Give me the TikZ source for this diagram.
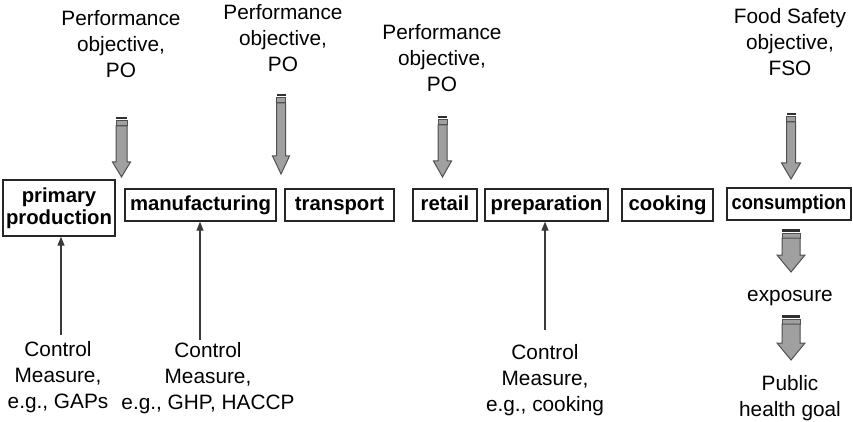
\documentclass[tikz,border=0pt]{standalone}
\usepackage{fontspec}
\setmainfont{Liberation Sans}
\usetikzlibrary{arrows.meta}
\definecolor{arrfill}{HTML}{A0A0A0}
\definecolor{arrline}{HTML}{505050}
\definecolor{stripecol}{HTML}{303030}
\definecolor{thinline}{HTML}{3A3A3A}
\tikzset{
  lbl/.style={inner sep=0pt, align=center, font=\fontsize{20.8}{26}\selectfont},
  stage/.style={draw=black!85, line width=1.3pt, inner sep=0pt, minimum height=32pt,
                font=\fontsize{20.3}{22}\selectfont\bfseries, align=center},
  onestage/.style={stage, text height=15pt, text depth=4.5pt},
  cmarrow/.style={draw=thinline, line width=1.3pt, -{Triangle[length=9pt,width=7pt]}},
  arrbody/.style={draw=arrline, fill=arrfill, line width=1pt, line join=miter},
  stripe/.style={fill=stripecol}
}
% #1 x, #2 ytop, #3 ytip, #4 half shaft, #5 half head, #6 head length
\newcommand\blockarr[6]{%
  \fill[stripe] (#1-#4,#2) rectangle (#1+#4,#2+2.5);
  \draw[arrbody] (#1-#4,#2+4) rectangle (#1+#4,#2+9);
  \draw[arrbody] (#1-#4,#2+9) -- (#1-#4,#3-#6) -- (#1-#5,#3-#6) -- (#1,#3)
      -- (#1+#5,#3-#6) -- (#1+#4,#3-#6) -- (#1+#4,#2+9) -- cycle;
}
\begin{document}
\begin{tikzpicture}[x=1pt,y=-1pt]
\useasboundingbox (0,0) rectangle (853,422);

% objectives
\node[lbl] (po1) at (121,44) {Performance\\objective,\\PO};
\node[lbl] (po2) at (283,38) {Performance\\objective,\\PO};
\node[lbl] (po3) at (442,58) {Performance\\objective,\\PO};
\node[lbl] (fso) at (790,42.5) {Food Safety\\objective,\\FSO};

% stages
\node[stage, minimum width=112pt, minimum height=56pt] (pp) at (59,208) {primary\\production};
\node[onestage, minimum width=151pt] (man) at (200.5,205) {manufacturing};
\node[onestage, minimum width=109pt] (tra) at (339.5,205) {transport};
\node[onestage, minimum width=64pt] (ret) at (445,205) {retail};
\node[onestage, minimum width=123pt] (pre) at (546.5,205) {preparation};
\node[onestage, minimum width=91pt] (coo) at (667.5,205) {cooking};
\node[onestage, minimum width=124pt] (con) at (789,204) {\scalebox{0.9}[1]{consumption}};

% lower texts
\node[lbl] (cm1) at (58,377) {Control\\Measure,\\e.g., GAPs};
\node[lbl] (cm2) at (208,378) {Control\\Measure,\\e.g., GHP, HACCP};
\node[lbl] (cm3) at (545,380) {Control\\Measure,\\e.g., cooking};
\node[lbl] (expo) at (790,298) {exposure};
\node[lbl] (phg) at (790,398) {Public\\health goal};

% block arrows (objectives)
\blockarr{121.5}{117}{177}{5.5}{9}{15}
\blockarr{281}{94}{174}{4.5}{8.5}{18}
\blockarr{442.5}{116}{177}{4.5}{9}{16}
\blockarr{791}{113}{179}{4.5}{9.5}{16}

% block arrows (outcome)
\blockarr{791}{229}{272}{9}{14}{17}
\blockarr{791}{315}{360}{9}{14}{17}

% control measure arrows
\coordinate (t1) at (61,335);
\coordinate (t2) at (200,340);
\coordinate (t3) at (545,330);
\draw[cmarrow] (t1) -- (t1 |- pp.south);
\draw[cmarrow] (t2) -- (t2 |- man.south);
\draw[cmarrow] (t3) -- (t3 |- pre.south);
\end{tikzpicture}
\end{document}
